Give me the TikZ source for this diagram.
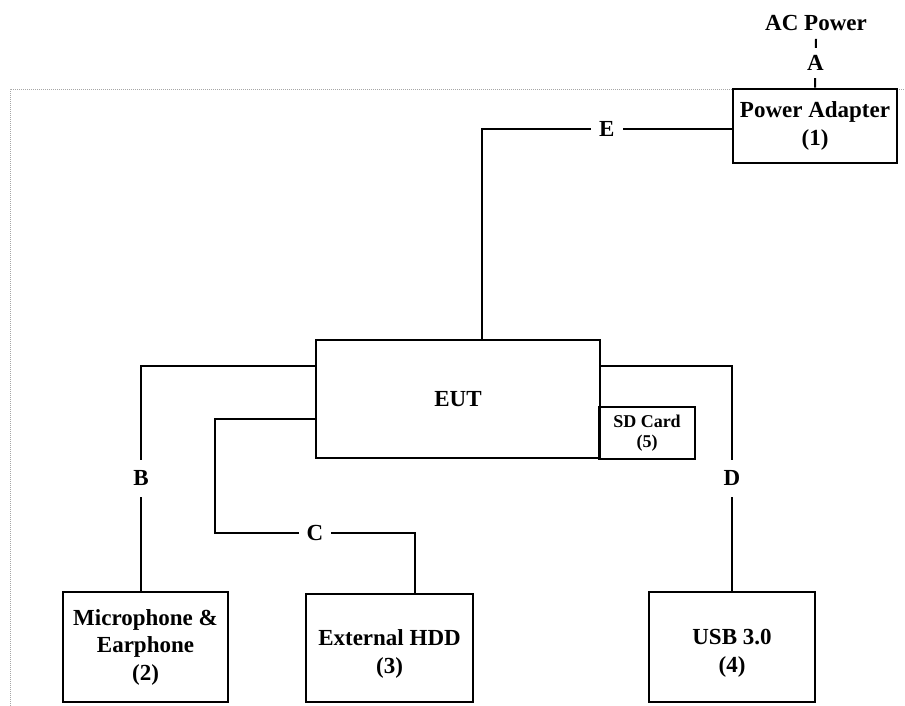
\documentclass[tikz,border=0pt]{standalone}
\usepackage{fontspec}
\setmainfont{Liberation Serif}
\newcommand\droptext[1]{\raisebox{-6pt}[\height][\depth]{\begin{tabular}{@{}c@{}}#1\end{tabular}}}
\begin{document}
\begin{tikzpicture}[x=1pt,y=-1pt,line cap=butt,line join=miter,
  font=\fontsize{23}{27.5}\selectfont\bfseries,
  unit/.style={draw,line width=2.6pt,rectangle,align=center,inner sep=0pt},
  wire/.style={line width=2pt},
  lbl/.style={fill=white,inner xsep=8pt,inner ysep=11pt}]
 \useasboundingbox (0,0) rectangle (905,706);
 % dotted frame
 \draw[gray!70,line width=0.8pt,dash pattern=on 1pt off 1pt] (10,706) -- (10,89) -- (905,89);
 % units
 \node[inner ysep=8pt] (ac) at (816,23) {AC Power};
 \node[unit,minimum width=164,minimum height=74] (pa) at (815,126) {Power Adapter\\(1)};
 \node[unit,minimum width=284,minimum height=118] (eut) at (458,399) {EUT};
 \node[unit,minimum width=96,minimum height=52,font=\fontsize{18}{20}\selectfont\bfseries] (sd) at (647,433) {SD Card\\(5)};
 \node[unit,minimum width=165,minimum height=110] (mic) at (145.5,647) {Microphone \&\\Earphone\\(2)};
 \node[unit,minimum width=167,minimum height=108] (hdd) at (389.5,648) {\droptext{External HDD\\(3)}};
 \node[unit,minimum width=166,minimum height=110] (usb) at (732,647) {\droptext{USB 3.0\\(4)}};
 \coordinate (cbend) at (215,533);
 % cables
 \draw[wire] (ac.south) -- node[fill=white,inner xsep=6pt,inner ysep=7.5pt] {A} (pa.north);
 \draw[wire] ([yshift=-3pt]pa.west) -| node[lbl,pos=0.25] {E} ([xshift=24pt]eut.north);
 \draw[wire] ([yshift=33pt]eut.west) -| node[lbl,pos=0.75] {B} ([xshift=-4.5pt]mic.north);
 \draw[wire] ([yshift=-20pt]eut.west) -| (cbend) -| node[lbl,pos=0.25] {C} ([xshift=25.5pt]hdd.north);
 \draw[wire] ([yshift=33pt]eut.east) -| node[lbl,pos=0.75] {D} (usb.north);
\end{tikzpicture}
\end{document}
